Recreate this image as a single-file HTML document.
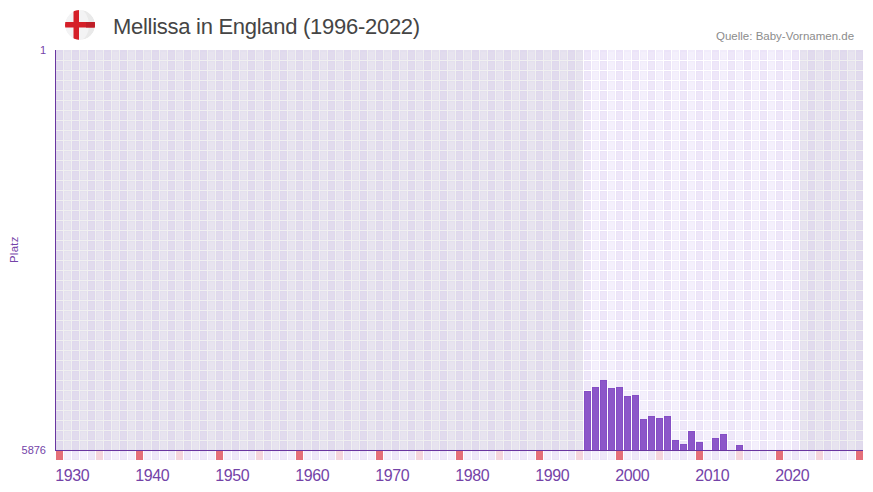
<!DOCTYPE html><html><head><meta charset="utf-8"><style>html,body{margin:0;padding:0;background:#fff;width:873px;height:492px;overflow:hidden}svg{display:block}text{font-family:"Liberation Sans",sans-serif}</style></head><body><svg width="873" height="492" viewBox="0 0 873 492" shape-rendering="crispEdges"><defs><pattern id="pA" x="56" y="50" width="16" height="10" patternUnits="userSpaceOnUse"><rect x="0" y="1" width="7" height="9" fill="#dfd8ed"/><rect x="1" y="2" width="5" height="7" fill="#e1dbed"/><rect x="8" y="1" width="7" height="9" fill="#e4e0ee"/><rect x="9" y="2" width="5" height="7" fill="#e7e3ef"/></pattern><pattern id="tA" x="56" y="50" width="16" height="1" patternUnits="userSpaceOnUse"><rect x="0" y="0" width="7" height="1" fill="#dfd8ed"/><rect x="8" y="0" width="7" height="1" fill="#e4e0ee"/></pattern><pattern id="pB" x="56" y="50" width="16" height="10" patternUnits="userSpaceOnUse"><rect x="0" y="1" width="7" height="9" fill="#ebe3f8"/><rect x="1" y="2" width="5" height="7" fill="#eee7f9"/><rect x="8" y="1" width="7" height="9" fill="#f1ecfb"/><rect x="9" y="2" width="5" height="7" fill="#f4f0fc"/></pattern><pattern id="tB" x="56" y="50" width="16" height="1" patternUnits="userSpaceOnUse"><rect x="0" y="0" width="7" height="1" fill="#ebe3f8"/><rect x="8" y="0" width="7" height="1" fill="#f1ecfb"/></pattern><pattern id="pR" x="56" y="451" width="16" height="9" patternUnits="userSpaceOnUse"><rect x="0" y="0" width="7" height="9" fill="#ebe3f8"/><rect x="1" y="1" width="5" height="7" fill="#eee7f9"/><rect x="8" y="0" width="7" height="9" fill="#f1ecfb"/><rect x="9" y="1" width="5" height="7" fill="#f4f0fc"/></pattern></defs><rect x="55" y="50" width="528" height="400" fill="#f0f0f0"/><rect x="55" y="50" width="528" height="400" fill="url(#pA)"/><rect x="55" y="50" width="528" height="1" fill="url(#tA)"/><rect x="583" y="50" width="217" height="400" fill="#ffffff"/><rect x="583" y="50" width="217" height="400" fill="url(#pB)"/><rect x="583" y="50" width="217" height="1" fill="url(#tB)"/><rect x="800" y="50" width="63" height="400" fill="#f0f0f0"/><rect x="800" y="50" width="63" height="400" fill="url(#pA)"/><rect x="800" y="50" width="63" height="1" fill="url(#tA)"/><rect x="56" y="451" width="807" height="9" fill="url(#pR)"/><rect x="56" y="451" width="7" height="9" fill="#e5707a"/><rect x="96" y="451" width="7" height="9" fill="#f5d5dd"/><rect x="136" y="451" width="7" height="9" fill="#e5707a"/><rect x="176" y="451" width="7" height="9" fill="#f5d5dd"/><rect x="216" y="451" width="7" height="9" fill="#e5707a"/><rect x="256" y="451" width="7" height="9" fill="#f5d5dd"/><rect x="296" y="451" width="7" height="9" fill="#e5707a"/><rect x="336" y="451" width="7" height="9" fill="#f5d5dd"/><rect x="376" y="451" width="7" height="9" fill="#e5707a"/><rect x="416" y="451" width="7" height="9" fill="#f5d5dd"/><rect x="456" y="451" width="7" height="9" fill="#e5707a"/><rect x="496" y="451" width="7" height="9" fill="#f5d5dd"/><rect x="536" y="451" width="7" height="9" fill="#e5707a"/><rect x="576" y="451" width="7" height="9" fill="#f5d5dd"/><rect x="616" y="451" width="7" height="9" fill="#e5707a"/><rect x="656" y="451" width="7" height="9" fill="#f5d5dd"/><rect x="696" y="451" width="7" height="9" fill="#e5707a"/><rect x="736" y="451" width="7" height="9" fill="#f5d5dd"/><rect x="776" y="451" width="7" height="9" fill="#e5707a"/><rect x="816" y="451" width="7" height="9" fill="#f5d5dd"/><rect x="856" y="451" width="7" height="9" fill="#e5707a"/><rect x="584.5" y="391.5" width="6" height="59" fill="#8c57c9" stroke="#854fc5" stroke-width="1" shape-rendering="auto"/><rect x="592.5" y="387.5" width="6" height="63" fill="#8c57c9" stroke="#854fc5" stroke-width="1" shape-rendering="auto"/><rect x="600.5" y="380.5" width="6" height="70" fill="#8c57c9" stroke="#854fc5" stroke-width="1" shape-rendering="auto"/><rect x="608.5" y="388.5" width="6" height="62" fill="#8c57c9" stroke="#854fc5" stroke-width="1" shape-rendering="auto"/><rect x="616.5" y="387.5" width="6" height="63" fill="#8c57c9" stroke="#854fc5" stroke-width="1" shape-rendering="auto"/><rect x="624.5" y="396.5" width="6" height="54" fill="#8c57c9" stroke="#854fc5" stroke-width="1" shape-rendering="auto"/><rect x="632.5" y="395.5" width="6" height="55" fill="#8c57c9" stroke="#854fc5" stroke-width="1" shape-rendering="auto"/><rect x="640.5" y="419.5" width="6" height="31" fill="#8c57c9" stroke="#854fc5" stroke-width="1" shape-rendering="auto"/><rect x="648.5" y="416.5" width="6" height="34" fill="#8c57c9" stroke="#854fc5" stroke-width="1" shape-rendering="auto"/><rect x="656.5" y="418.5" width="6" height="32" fill="#8c57c9" stroke="#854fc5" stroke-width="1" shape-rendering="auto"/><rect x="664.5" y="416.5" width="6" height="34" fill="#8c57c9" stroke="#854fc5" stroke-width="1" shape-rendering="auto"/><rect x="672.5" y="440.5" width="6" height="10" fill="#8c57c9" stroke="#854fc5" stroke-width="1" shape-rendering="auto"/><rect x="680.5" y="444.5" width="6" height="6" fill="#8c57c9" stroke="#854fc5" stroke-width="1" shape-rendering="auto"/><rect x="688.5" y="431.5" width="6" height="19" fill="#8c57c9" stroke="#854fc5" stroke-width="1" shape-rendering="auto"/><rect x="696.5" y="442.5" width="6" height="8" fill="#8c57c9" stroke="#854fc5" stroke-width="1" shape-rendering="auto"/><rect x="712.5" y="438.5" width="6" height="12" fill="#8c57c9" stroke="#854fc5" stroke-width="1" shape-rendering="auto"/><rect x="720.5" y="434.5" width="6" height="16" fill="#8c57c9" stroke="#854fc5" stroke-width="1" shape-rendering="auto"/><rect x="736.5" y="445.5" width="6" height="5" fill="#8c57c9" stroke="#854fc5" stroke-width="1" shape-rendering="auto"/><rect x="55" y="50" width="1" height="401" fill="#6936a0"/><rect x="55" y="450" width="808" height="1" fill="#6936a0"/><g fill="#7443a8" font-size="11"><text x="46" y="54" text-anchor="end">1</text><text x="46" y="454" text-anchor="end">5876</text><text transform="translate(17.5,263) rotate(-90)" font-size="11.3" letter-spacing="0.3">Platz</text></g><g fill="#7443a8" font-size="16" letter-spacing="-0.35"><text x="55.2" y="481">1930</text><text x="135.2" y="481">1940</text><text x="215.2" y="481">1950</text><text x="295.2" y="481">1960</text><text x="375.2" y="481">1970</text><text x="455.2" y="481">1980</text><text x="535.2" y="481">1990</text><text x="615.2" y="481">2000</text><text x="695.2" y="481">2010</text><text x="775.2" y="481">2020</text></g><defs><clipPath id="fc"><circle cx="80" cy="25" r="15"/></clipPath></defs><g shape-rendering="auto" clip-path="url(#fc)"><circle cx="80" cy="25" r="15" fill="#f3f3f4"/><path d="M80 10 A15 15 0 0 1 80 40 A9 15 0 0 0 80 10Z" fill="#e9e9e9"/><rect x="73.5" y="10" width="5.5" height="30" fill="#d51f28"/><rect x="65" y="22" width="30" height="5.5" fill="#d51f28"/><rect x="86" y="22" width="9" height="5.5" fill="#bf1e28"/></g><text x="113" y="34" font-size="22" letter-spacing="-0.28" fill="#454545">Mellissa in England (1996-2022)</text><text x="716" y="40" font-size="11.5" fill="#8c8c8c">Quelle: Baby-Vornamen.de</text></svg></body></html>
